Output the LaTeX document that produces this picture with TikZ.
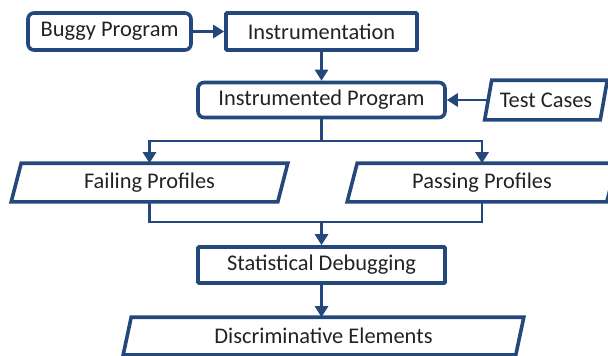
\documentclass[tikz,border=0pt]{standalone}
\usepackage{fontspec}
\setmainfont{Carlito}
\usetikzlibrary{arrows.meta}
\definecolor{flowblue}{RGB}{36,72,124}
\definecolor{labelgray}{RGB}{34,34,34}
\tikzset{
  box/.style={draw=flowblue, line width=3.6pt, minimum height=36pt,
    inner sep=0pt, text=labelgray, font=\fontsize{22.4}{26}\selectfont,
    rounded corners=0.8pt},
  roundbox/.style={box, rounded corners=6pt},
  databox/.style={box, draw=none},
  frame/.style={draw=flowblue, line width=3.6pt, line join=miter},
  link/.style={draw=flowblue, line width=2.8pt},
  arrow/.style={link, -{Triangle[width=13pt,length=11pt]}},
}
\begin{document}
\begin{tikzpicture}[x=1pt,y=-1pt]
\useasboundingbox (0,0) rectangle (608,356);
\clip (0,0) rectangle (608,356);

% process boxes
\node[roundbox, minimum width=163pt, minimum height=37pt] (bug)   at (109.5,31.5) {Buggy Program};
\node[box,      minimum width=191pt, minimum height=37pt] (instr) at (321.5,31.5) {Instrumentation};
\node[roundbox, minimum width=247pt, minimum height=35pt] (iprog) at (321.5,100) {Instrumented Program};
\node[box,      minimum width=247pt] (stat) at (321.5,265) {Statistical Debugging};

% data (parallelogram) boxes
\node[databox, minimum width=112pt] (test) at (546,100) {Test Cases};
\node[databox, minimum width=263pt, minimum height=35pt] (fail) at (149.5,182.5) {Failing Profiles};
\node[databox, minimum width=256pt, minimum height=35pt] (pass) at (482,182.5) {Passing Profiles};
\node[databox, minimum width=389pt, minimum height=34pt] (disc) at (323.5,336) {Discriminative Elements};

\foreach \n/\s in {test/3.5, fail/5, pass/5, disc/4}
  \draw[frame] ([xshift=-\s pt]\n.south west) -- ([xshift=-\s pt]\n.south east)
    -- ([xshift=\s pt]\n.north east) -- ([xshift=\s pt]\n.north west) -- cycle;

% connectors
\coordinate (split) at (321.5,141);
\coordinate (join)  at (321.5,222);
\draw[arrow] (bug.east) -- (instr.west);
\draw[arrow] (instr.south) -- (iprog.north);
\draw[arrow] (test.west) -- (iprog.east);
\draw[link] (iprog.south) -- (split);
\draw[arrow] (split) -| (fail.north);
\draw[arrow] (split) -| (pass.north);
\draw[link] (fail.south) |- (join);
\draw[link] (pass.south) |- (join);
\draw[arrow] (join) -- (stat.north);
\draw[arrow] (stat.south) -- (stat.south |- disc.north);
\end{tikzpicture}
\end{document}
